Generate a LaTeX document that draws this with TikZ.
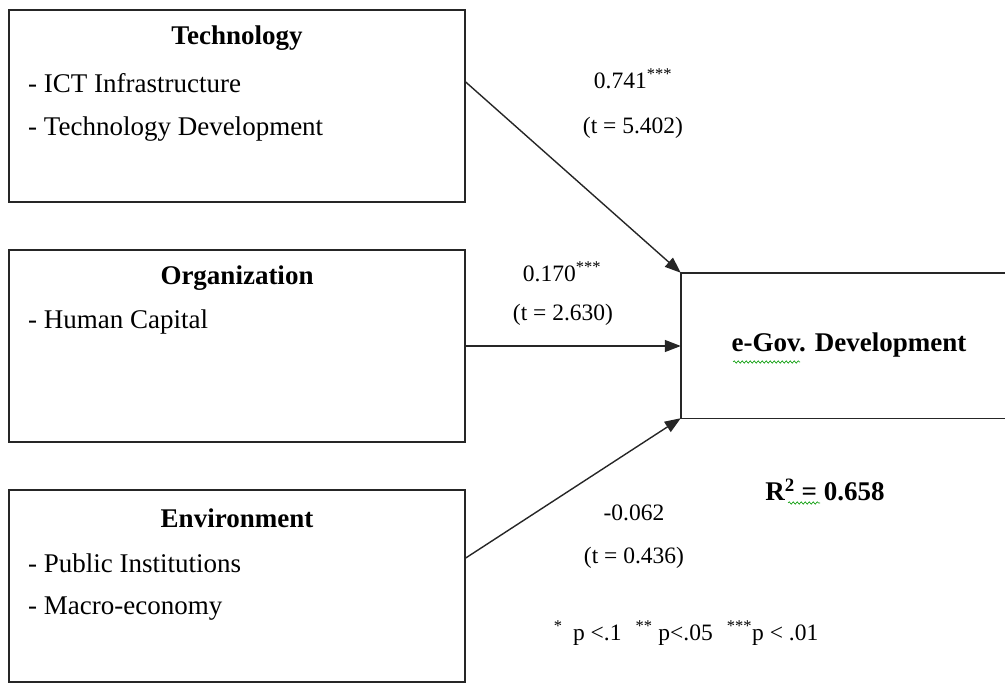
\documentclass[tikz,border=0pt]{standalone}
\usepackage{fontspec}
\setmainfont{Liberation Serif}
\usetikzlibrary{arrows.meta,decorations.pathmorphing}
\begin{document}
\begin{tikzpicture}[x=1pt,y=-1pt,
  box/.style={draw=black!85,line width=1.4pt,minimum width=456pt,minimum height=192pt,inner sep=0pt},
  ttl/.style={font=\fontsize{27}{32}\selectfont\bfseries},
  itm/.style={font=\fontsize{27}{32}\selectfont,anchor=west,inner sep=0pt},
  num/.style={font=\fontsize{23.5}{28}\selectfont,inner sep=0pt},
  arr/.style={line width=1.4pt,draw=black!85,-{Triangle[length=16pt,width=12pt]}},
  wavy/.style={draw=green!60!black,line width=0.6pt,decorate,decoration={snake,amplitude=1.2pt,segment length=4pt}}]
\useasboundingbox (0,0) rectangle (1005,683);
% boxes
\node[box] (tech) at (237,106) {};
\node[box] (org) at (237,346) {};
\node[box] (env) at (237,586) {};
\node[minimum width=330pt,minimum height=145pt,inner sep=0pt,font=\fontsize{27}{32}\selectfont\bfseries] (egov) at (846,345.5) {\hspace{6pt}e-Gov. Development};
\draw[draw=black!85,line width=1.4pt] (egov.north east) -- (egov.north west) -- (egov.south west) -- (egov.south east);
% box texts
\node[ttl] (techt) at (237,38) {Technology};
\node[itm] (tech1) at (28,83) {- ICT Infrastructure};
\node[itm] (tech2) at (28,129) {- Technology Development};
\node[ttl] (orgt) at (237,278) {Organization};
\node[itm] (org1) at (28,322) {- Human Capital};
\node[ttl] (envt) at (237,518) {Environment};
\node[itm] (env1) at (28,563) {- Public Institutions};
\node[itm] (env2) at (28,609) {- Macro-economy};
% arrows
\draw[arr] ([yshift=24pt]tech.east) -- (egov.north west);
\draw[arr] (org.east) -- (egov.west |- org.east);
\draw[arr] ([yshift=28pt]env.east) -- (egov.south west);
% coefficients
\node[num] (c1) at (633,79) {0.741\textsuperscript{***}};
\node[num] (t1) at (633,128) {(t = 5.402)};
\node[num] (c2) at (562,272) {0.170\textsuperscript{***}};
\node[num] (t2) at (563,315) {(t = 2.630)};
\node[num] (c3) at (634,513) {-0.062};
\node[num] (t3) at (634,558) {(t = 0.436)};
\node[ttl] (r2) at (825,490) {R\textsuperscript{2} = 0.658};
\node[num] (fn) at (686,633) {\textsuperscript{*}\hspace{0.45em}p <.1\hspace{0.6em}\textsuperscript{**} p<.05\hspace{0.6em}\textsuperscript{***}p < .01};
% spell-check wavy underlines
\draw[wavy] (733,362) -- (800,362);
\draw[wavy] (788,503) -- (820,503);
\end{tikzpicture}
\end{document}
